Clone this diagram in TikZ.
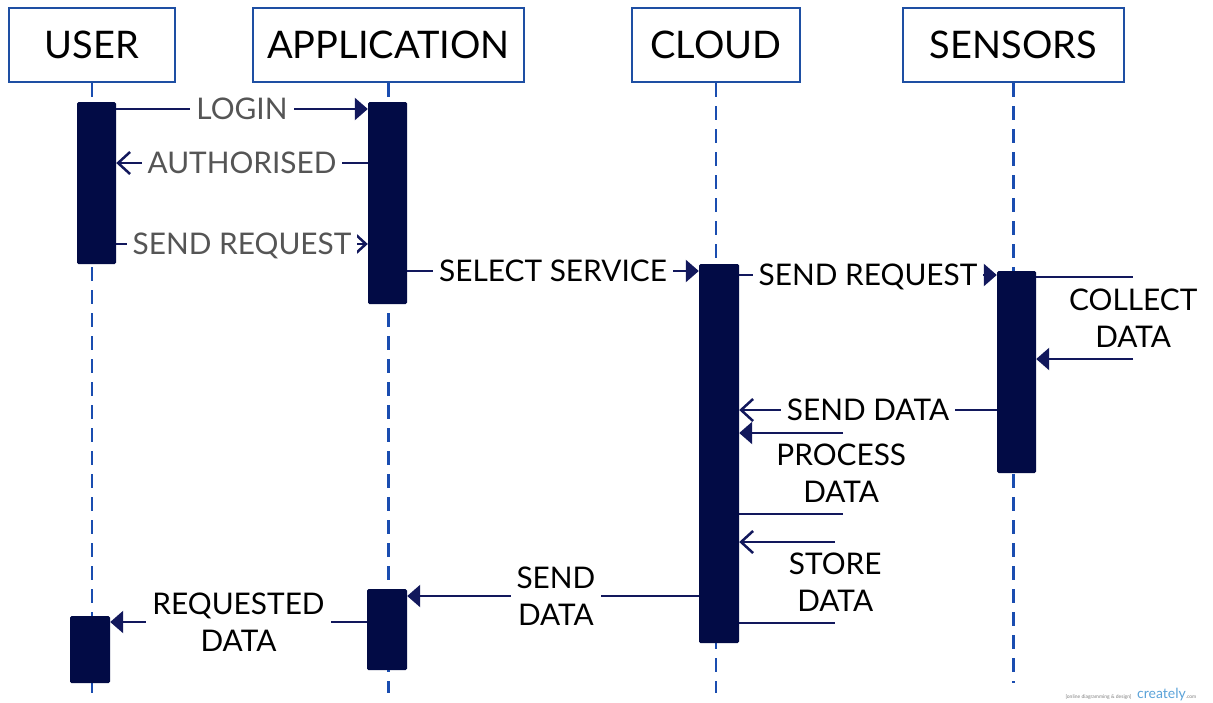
\documentclass[tikz,border=0pt]{standalone}
\usepackage{fontspec}
\setmainfont{Lato}
\usetikzlibrary{arrows.meta}
\definecolor{hdr}{HTML}{1E4FA3}
\definecolor{lifec}{HTML}{1A4DB0}
\definecolor{barc}{HTML}{020B45}
\definecolor{conn}{HTML}{12185C}
\definecolor{lblgray}{HTML}{555555}
\definecolor{crblue}{HTML}{5BA3D9}
\begin{document}
\begin{tikzpicture}[x=1pt,y=-1pt,
 header/.style={draw=hdr, line width=2pt, minimum height=74pt, inner sep=0pt,
   font=\fontsize{38}{44}\selectfont, text height=27.2pt, text depth=0pt},
 lifeline/.style={draw=lifec, line width=2.5pt, dash pattern=on 14pt off 9pt},
 actbar/.style={fill=barc, draw=none, minimum width=39pt, inner sep=0pt, rounded corners=1.5pt},
 msg/.style={draw=conn, line width=2.5pt},
 fullhead/.style={-{Triangle[length=13pt,width=22pt]}},
 openhead/.style={-{Straight Barb[length=12pt,width=22pt]}},
 lbl/.style={fill=white, inner xsep=6pt, inner ysep=2pt, font=\fontsize{29.8}{37}\selectfont,
   text height=21.3pt, text depth=0pt},
 lbltwo/.style={fill=white, inner xsep=6pt, inner ysep=2pt, font=\fontsize{29.8}{37}\selectfont, align=center},
]
\useasboundingbox (0,0) rectangle (1213,702);
\fill[white] (0,0) rectangle (1213,702);

% headers
\node[header, minimum width=166pt] (hU) at (92,45) {USER};
\node[header, minimum width=271pt] (hA) at (388.5,45) {APPLICATION};
\node[header, minimum width=168pt] (hC) at (716,45) {CLOUD};
\node[header, minimum width=221pt] (hS) at (1013.5,45) {SENSORS};

% lifeline ends
\coordinate (eU) at (92,693);
\coordinate (eA) at (388.5,693);
\coordinate (eC) at (716,693);
\coordinate (eS) at (1013.5,683);
\draw[lifeline] (hU.south) -- (eU);
\draw[lifeline] (hA.south) -- (eA);
\draw[lifeline] (hC.south) -- (eC);
\draw[lifeline] (hS.south) -- (eS);

% activation bars
\node[actbar, minimum height=162pt] (bU1) at (96.5,183) {};
\node[actbar, minimum height=202pt] (bA1) at (387.5,203) {};
\node[actbar, minimum width=40pt, minimum height=379pt] (bC) at (719,453.5) {};
\node[actbar, minimum height=202pt] (bS) at (1016.5,372) {};
\node[actbar, minimum width=40pt, minimum height=81pt] (bA2) at (387,629.5) {};
\node[actbar, minimum width=40pt, minimum height=67pt] (bU2) at (90,649.5) {};

% messages
\draw[msg, fullhead] (bU1.east |- 0,109) -- node[lbl, text=lblgray] {LOGIN} (bA1.west |- 0,109);
\draw[msg, openhead] (bA1.west |- 0,163) -- node[lbl, text=lblgray] {AUTHORISED} (bU1.east |- 0,163);
\draw[msg, openhead] (bU1.east |- 0,244) -- node[lbl, text=lblgray] {SEND REQUEST} (bA1.west |- 0,244);
\draw[msg, fullhead] (bA1.east |- 0,271) -- node[lbl] {SELECT SERVICE} (bC.west |- 0,271);
\draw[msg, fullhead] (bC.east |- 0,275) -- node[lbl] {SEND REQUEST} (bS.west |- 0,275);

% self message: collect data
\draw[msg] (bS.east |- 0,277) -- ++(97,0) coordinate (cd1);
\path (cd1) ++(0,82) coordinate (cd2);
\draw[msg, fullhead] (cd2) -- (bS.east |- cd2);
\path (cd1) -- node[lbltwo, fill=none] {COLLECT\\DATA} (cd2);

\draw[msg, openhead] (bS.west |- 0,410) -- node[lbl] {SEND DATA} (bC.east |- 0,410);

% self message: process data
\draw[msg] (bC.east |- 0,514) -- ++(104,0) coordinate (pd1);
\path (pd1) ++(0,-81) coordinate (pd2);
\draw[msg, fullhead] (pd2) -- (bC.east |- pd2);
\path (pd1) -- node[lbltwo, fill=none, xshift=-2pt] {PROCESS\\DATA} (pd2);

% self message: store data
\draw[msg] (bC.east |- 0,623) -- ++(96,0) coordinate (sd1);
\path (sd1) ++(0,-81) coordinate (sd2);
\draw[msg, openhead] (sd2) -- (bC.east |- sd2);
\path (sd1) -- node[lbltwo, fill=none] {STORE\\DATA} (sd2);

\draw[msg, fullhead] (bC.west |- 0,596) -- node[lbltwo, pos=0.49] {SEND\\DATA} (bA2.east |- 0,596);
\draw[msg, fullhead] (bA2.west |- 0,622) -- node[lbltwo] {REQUESTED\\DATA} (bU2.east |- 0,622);

% watermark
\node[font=\fontsize{5}{6}\selectfont, text=gray, anchor=east] (wm1) at (1135,697) {[online diagramming \& design]};
\node[anchor=west, inner sep=0pt] (wm2) at (1137,695) {{\fontsize{14}{14}\selectfont\color{crblue}creately}{\fontsize{5}{6}\selectfont\color{gray}.com}};
\end{tikzpicture}
\end{document}
